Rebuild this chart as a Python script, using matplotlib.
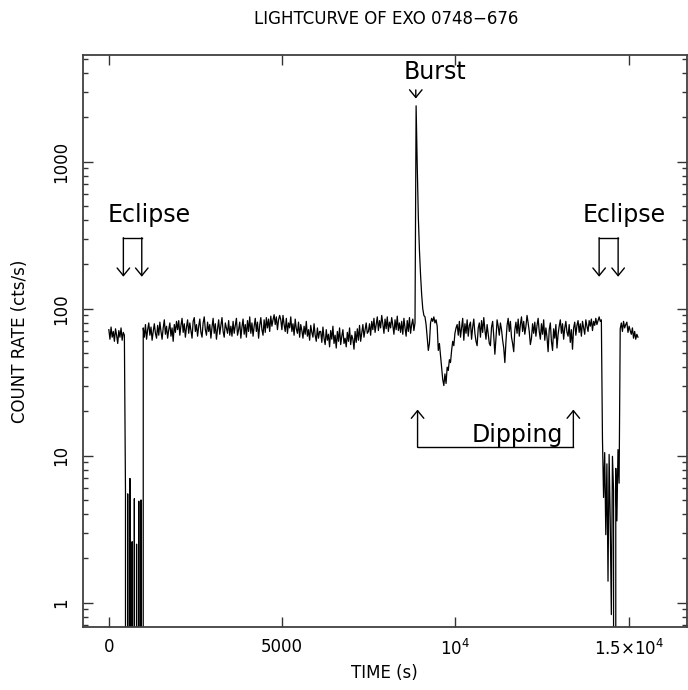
"""Lightcurve of EXO 0748-676 — eclipses, burst and dipping"""

import numpy as np
import matplotlib
matplotlib.use("Agg")
import matplotlib.pyplot as plt
from matplotlib.ticker import FixedLocator, LogLocator, NullFormatter

# Time binning of the lightcurve (s)
BIN_SIZE = 32

# Count rates (cts/s), one value per bin, split by phase of the observation
rate_pre_eclipse1 = [72, 62, 75, 64, 70, 60, 73, 66, 58, 71, 64, 74, 61, 69, 66]

rate_eclipse1 = [5.6, 0, 5.5, 0, 7.0, 0, 2.6, 0, 5.1, 0, 2.5, 0, 4.9, 0, 5.0, 0]

rate_persistent = [
    # ~1000-1950 s
    74, 64, 78, 62, 72, 80, 66, 75, 61, 70, 79, 68, 63, 77, 66, 81, 70, 62, 74, 84,
    67, 76, 63, 72, 80, 65, 74, 60, 78, 69, 82,
    # ~1980-3490 s
    72, 83, 66, 77, 86, 69, 79, 64, 75, 84, 68, 80, 71, 63, 82, 87, 70, 78, 65, 76,
    85, 69, 64, 80, 88, 72, 66, 81, 70, 78, 63, 75, 86, 68, 79, 62, 73, 84, 67, 77,
    87, 70, 64, 80, 74, 68, 83, 66,
    # ~3520-4930 s
    76, 65, 82, 68, 77, 86, 66, 72, 81, 63, 75, 85, 67, 78, 64, 83, 70, 88, 68, 80,
    65, 76, 86, 70, 81, 63, 77, 87, 72, 66, 84, 69, 87, 74, 85, 70, 89, 76, 84, 91,
    78, 88, 72, 84, 90,
    # ~4960-6080 s
    84, 72, 90, 78, 70, 86, 68, 80, 74, 88, 70, 79, 66, 85, 73, 68, 81, 64, 78, 71,
    63, 76, 67, 82, 65, 72, 61, 77, 69, 64, 79, 66, 60, 74, 63, 70,
    # ~6110-7460 s
    70, 59, 75, 63, 57, 72, 61, 67, 55, 71, 62, 76, 58, 66, 54, 70, 60, 74, 57, 65,
    72, 58, 63, 55, 69, 60, 74, 57, 66, 62, 53, 70, 59, 73, 61, 77, 60, 68, 78, 64,
    72, 80, 68,
    # ~7490-8830 s
    70, 79, 66, 82, 72, 86, 69, 78, 88, 71, 83, 74, 90, 79, 68, 85, 73, 88, 70, 81,
    74, 87, 77, 67, 84, 72, 89, 71, 80, 69, 82, 67, 86, 74, 65, 83, 70, 87, 68, 78,
    85, 71, 80,
]

rate_burst_dipping = [
    # burst and decay
    2400, 950, 420, 250, 170, 125, 100, 90,
    # first dips after the burst
    88, 78, 64, 52, 58, 80,
    86, 82, 88, 80, 84, 76,
    52, 58, 48, 40, 33, 30, 36, 31, 40, 38, 45, 43, 52, 60, 56, 68, 74,
    # dipping episode
    78, 66, 82, 64, 74, 86, 61, 79, 68, 84,
    65, 77, 81, 62, 75, 85, 68, 60, 56, 74,
    80, 64, 83, 69, 87, 72, 62, 78, 67, 58,
    56, 75, 82, 65, 49, 63, 84, 76, 66, 80,
    72, 61, 54, 43, 60, 77, 86, 70, 82, 64,
    58, 51, 72, 81, 68, 85, 65, 78, 88, 70,
    82, 67, 76, 90, 80, 70, 57, 63, 79, 68,
    81, 65, 77, 86, 70, 62, 79, 67, 84, 61,
    74, 64, 51, 72, 80, 60, 52, 73, 63, 78,
    54, 67, 76, 84, 68, 79, 62, 74, 82, 69,
    65, 78, 59, 72, 53, 74, 81, 66, 77, 83,
    69, 79, 65, 82, 74, 67, 84, 76, 70, 83,
    76, 85, 71, 82, 77, 86, 78, 83, 88, 82,
    84,
]

rate_eclipse2 = [13.0, 5.2, 10.5, 2.9, 8.8, 1.4, 10.2, 3.6, 0.83, 9.9, 5.8, 0, 8.2, 3.6, 11.0, 6.5]

rate_post_eclipse2 = [73, 80, 70, 82, 74, 78, 81, 69, 76, 71, 67, 74, 63, 70, 62, 67, 64]

x_ticks = [0, 5000, 10000, 15000]
x_tick_labels = ["0", "5000", r"$\mathregular{10^4}$", r"$\mathregular{1.5{\times}10^4}$"]
y_ticks = [1, 10, 100, 1000]
y_tick_labels = ["1", "10", "100", "1000"]

rate = np.concatenate([rate_pre_eclipse1, rate_eclipse1, rate_persistent,
                       rate_burst_dipping, rate_eclipse2, rate_post_eclipse2])
time = np.arange(len(rate)) * BIN_SIZE

TICK_FONT = dict(family="DejaVu Sans", fontsize=12)
NOTE_FONT = dict(family="DejaVu Sans", fontsize=17)

fig = plt.figure(figsize=(6.88, 6.90), dpi=100)
ax = fig.add_axes([82.5 / 688, 1 - 627.3 / 690, 604.2 / 688, 572.3 / 690])

ax.plot(time, rate, color="black", linewidth=0.9)
ax.set_yscale("log", nonpositive="clip")
ax.set_xlim(-760, 16670)
ax.set_ylim(0.68, 5320)

# ticks on all four sides, pointing inward
ax.xaxis.set_major_locator(FixedLocator(x_ticks))
ax.set_xticklabels(x_tick_labels, **TICK_FONT)
ax.yaxis.set_major_locator(FixedLocator(y_ticks))
ax.yaxis.set_minor_locator(LogLocator(base=10, subs=range(2, 10)))
ax.yaxis.set_minor_formatter(NullFormatter())
ax.set_yticklabels(y_tick_labels, rotation=90, va="center", **TICK_FONT)
ax.tick_params(which="both", direction="in", top=True, right=True, color="#333333")
ax.tick_params(which="major", length=7, width=1.0)
ax.tick_params(which="minor", length=3.5, width=1.0)
ax.tick_params(axis="x", pad=8)
ax.tick_params(axis="y", pad=9)
for spine in ax.spines.values():
    spine.set_color("#404040")
    spine.set_linewidth(1.3)

ax.set_xlabel("TIME (s)", **TICK_FONT)
ax.xaxis.set_label_coords(0.5, -0.064)
ax.set_ylabel("COUNT RATE (cts/s)", **TICK_FONT)
ax.yaxis.set_label_coords(-0.088, 0.5)
fig.text(386 / 688, 1 - 19 / 690, "LIGHTCURVE OF EXO 0748\u2212676",
         ha="center", va="center", **TICK_FONT)

# annotations
arrow = dict(arrowstyle="->,head_length=0.55,head_width=0.45", color="black",
             lw=1.0, shrinkA=0, shrinkB=0, mutation_scale=10)


def down_arrow(x, y_from, y_to):
    ax.annotate("", xy=(x, y_to), xytext=(x, y_from), arrowprops=arrow)


def eclipse_mark(x1, x2, text_x):
    ax.plot([x1, x2], [304, 304], color="black", lw=1.0)
    down_arrow(x1, 304, 165)
    down_arrow(x2, 304, 165)
    ax.text(text_x, 390, "Eclipse", ha="center", va="baseline", **NOTE_FONT)


eclipse_mark(419, 950, 1160)
eclipse_mark(14144, 14692, 14870)

down_arrow(8855, 3080, 2690)
ax.text(8514, 3640, "Burst", ha="left", va="baseline", **NOTE_FONT)

ax.plot([8906, 13400], [11.4, 11.4], color="black", lw=1.0)
for x in (8906, 13400):
    ax.annotate("", xy=(x, 20.6), xytext=(x, 11.4), arrowprops=arrow)
ax.text(13096, 12.4, "Dipping", ha="right", va="baseline", **NOTE_FONT)

fig.savefig("out.png", dpi=100, facecolor="white")
plt.close(fig)
